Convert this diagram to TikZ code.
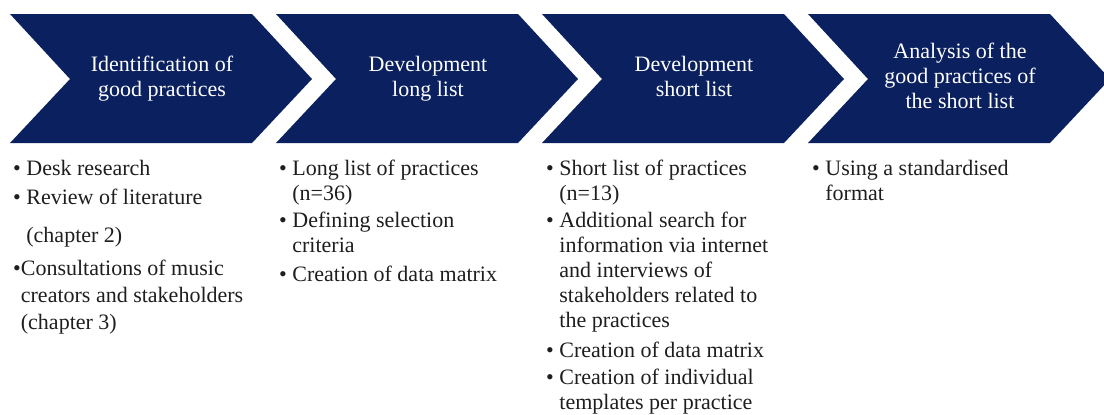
\documentclass[tikz,border=0pt]{standalone}
\usepackage{fontspec}
\setmainfont{Liberation Serif}
\definecolor{chevblue}{RGB}{10,32,95}
\definecolor{ink}{RGB}{30,30,30}

\begin{document}
\begin{tikzpicture}[x=1pt, y=-1pt,
    chevron/.style={fill=chevblue, draw=none},
    title/.style={shape=rectangle, text=white, align=center, inner sep=0pt, font=\fontsize{22}{25}\selectfont},
    bullets/.style={shape=rectangle, text=ink, align=left, anchor=north west, inner sep=0pt, font=\fontsize{22}{25}\selectfont}]

    \useasboundingbox (0,0) rectangle (1104,415);

    % the four process steps
    \fill[chevron] (10,14) -- (252,14) -- (312,79) -- (252,143) -- (10,143) -- (70,79) -- cycle;
    \fill[chevron] (276,14) -- (518,14) -- (578,79) -- (518,143) -- (276,143) -- (336,79) -- cycle;
    \fill[chevron] (542,14) -- (784,14) -- (844,79) -- (784,143) -- (542,143) -- (602,79) -- cycle;
    \fill[chevron] (808,14) -- (1050,14) -- (1110,79) -- (1050,143) -- (808,143) -- (868,79) -- cycle;

    \node[title] (Ident) at (162,79) {Identification of \\ good practices};
    \node[title] (LongL) at (428,79) {Development \\ long list};
    \node[title] (ShortL) at (694,76) {Development \\ short list};
    \node[title] (Anal) at (960,76) {Analysis of the \\ good practices of \\ the short list};


    % what happens in each step
    \node[bullets] (IdentList) at (13,160) {
        \textbullet\ Desk research \\[4pt]
        \textbullet\ Review of literature \\[13pt]
        \hphantom{\textbullet\ }(chapter 2) \\[8pt]
        \textbullet Consultations of music \\[2pt]
        \hphantom{\textbullet}creators and stakeholders \\[2pt]
        \hphantom{\textbullet}(chapter 3)
    };

    \node[bullets] (LongLList) at (279,160) {
        \textbullet\ Long list of practices \\
        \hphantom{\textbullet\ }(n=36) \\[2pt]
        \textbullet\ Defining selection \\
        \hphantom{\textbullet\ }criteria \\[4pt]
        \textbullet\ Creation of data matrix
    };

    \node[bullets] (ShortLList) at (546,160) {
        \textbullet\ Short list of practices \\
        \hphantom{\textbullet\ }(n=13) \\[2pt]
        \textbullet\ Additional search for \\
        \hphantom{\textbullet\ }information via internet \\
        \hphantom{\textbullet\ }and interviews of \\
        \hphantom{\textbullet\ }stakeholders related to \\
        \hphantom{\textbullet\ }the practices \\[5pt]
        \textbullet\ Creation of data matrix \\[2pt]
        \textbullet\ Creation of individual \\
        \hphantom{\textbullet\ }templates per practice
    };

    \node[bullets] (AnalList) at (812,160) {
        \textbullet\ Using a standardised \\
        \hphantom{\textbullet\ }format
    };

\end{tikzpicture}
\end{document}
